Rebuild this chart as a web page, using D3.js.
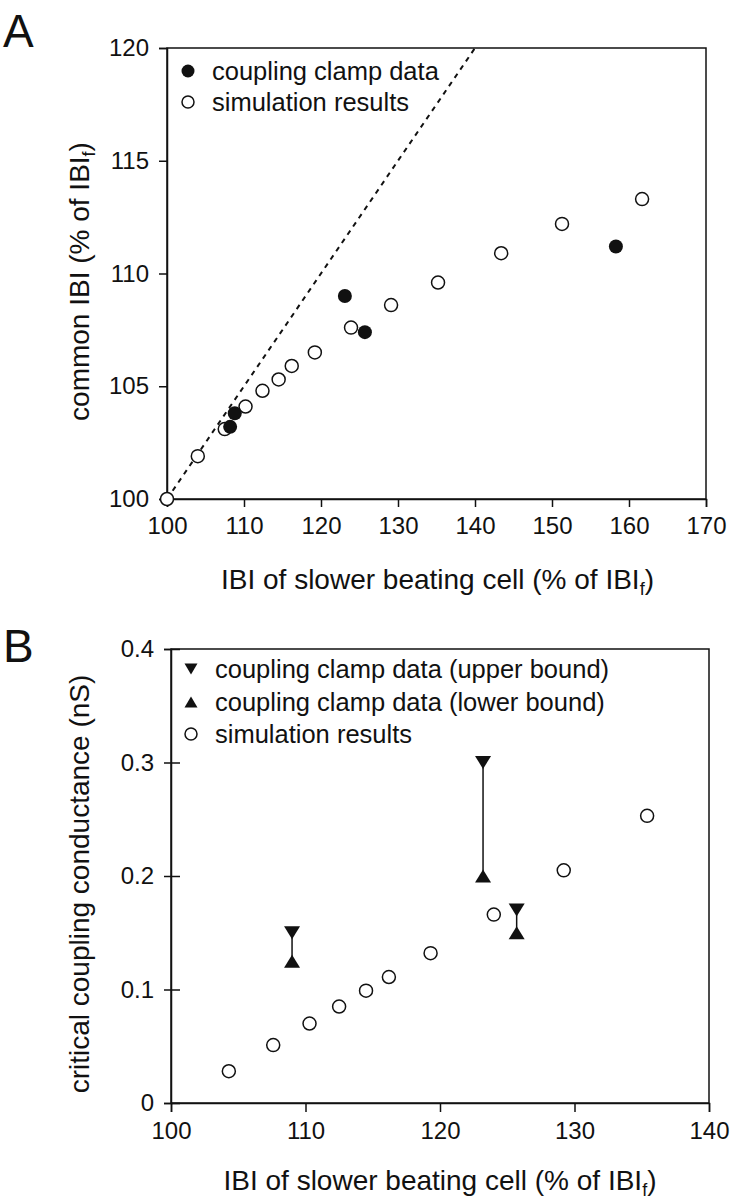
<!DOCTYPE html>
<html><head><meta charset="utf-8">
<script src="https://cdn.jsdelivr.net/npm/d3@7"></script>
<style>
body{margin:0;background:#fff;}
svg{display:block;font-family:"Liberation Sans",Arial,Helvetica,sans-serif;}
</style></head><body>
<svg id="c" width="734" height="1200"></svg>
<script>
// ---- Panel A data ----
const simAx = [100, 104.0, 107.5, 110.2, 112.4, 114.5, 116.2, 119.2, 123.9, 129.1, 135.2, 143.4, 151.3, 161.7];
const simAy = [100, 101.9, 103.1, 104.1, 104.8, 105.3, 105.9, 106.5, 107.6, 108.6, 109.6, 110.9, 112.2, 113.3];
const clampAx = [108.2, 108.8, 123.1, 125.7, 158.3];
const clampAy = [103.2, 103.8, 109.0, 107.4, 111.2];
const diagX = [100, 140];
const diagY = [100, 120];
const ticksAx = [100, 110, 120, 130, 140, 150, 160, 170];
const ticksAy = [100, 105, 110, 115, 120];
const legendA = ["coupling clamp data", "simulation results"];

// ---- Panel B data ----
const simBx = [104.3, 107.6, 110.3, 112.5, 114.5, 116.2, 119.3, 124.0, 129.2, 135.4];
const simBy = [0.028, 0.051, 0.070, 0.085, 0.099, 0.111, 0.132, 0.166, 0.205, 0.253];
const clampBx = [109.0, 123.2, 125.7];
const upperB = [0.15, 0.30, 0.17];
const lowerB = [0.125, 0.20, 0.15];
const ticksBx = [100, 110, 120, 130, 140];
const ticksBy = [0, 0.1, 0.2, 0.3, 0.4];
const legendB = ["coupling clamp data (upper bound)", "coupling clamp data (lower bound)", "simulation results"];

const svg = d3.select("#c");
const FS = 24;     // tick labels
const LFS = 25.5;  // legend
const TFS = 28;    // axis titles

function subTitle(g, pre, x, y, rot) {
  const t = g.append("text").attr("text-anchor", "middle").attr("font-size", TFS).attr("fill", "#111");
  if (rot) t.attr("transform", `translate(${x},${y}) rotate(-90)`);
  else t.attr("x", x).attr("y", y);
  t.append("tspan").text(pre + "IBI");
  t.append("tspan").attr("font-size", 18).attr("dy", 6).text("f");
  t.append("tspan").attr("dy", -6).text(")");
}

// ================= Panel A =================
{
  const L = 167, R = 706, T = 48, B = 499;
  const x = d3.scaleLinear().domain([100, 170]).range([L, R]);
  const y = d3.scaleLinear().domain([100, 120]).range([B, T]);
  const g = svg.append("g");
  g.append("rect").attr("x", L).attr("y", T).attr("width", R - L).attr("height", B - T)
    .attr("fill", "none").attr("stroke", "#111").attr("stroke-width", 1.5);
  const ax = g.append("g").attr("transform", `translate(0,${B})`)
    .call(d3.axisBottom(x).tickValues(ticksAx).tickSize(8).tickPadding(10).tickFormat(d3.format("d")));
  const ay = g.append("g").attr("transform", `translate(${L},0)`)
    .call(d3.axisLeft(y).tickValues(ticksAy).tickSize(8).tickPadding(10).tickFormat(d3.format("d")));
  [ax, ay].forEach(a => {
    a.select(".domain").attr("stroke", "#111").attr("stroke-width", 1.5);
    a.selectAll(".tick line").attr("stroke", "#111").attr("stroke-width", 1.5);
    a.selectAll(".tick text").attr("font-size", FS).attr("fill", "#111").attr("font-family", "Liberation Sans, Arial, sans-serif");
  });
  g.append("line").attr("x1", x(diagX[0])).attr("y1", y(diagY[0])).attr("x2", x(diagX[1])).attr("y2", y(diagY[1]))
    .attr("stroke", "#111").attr("stroke-width", 2).attr("stroke-dasharray", "5,5");
  g.selectAll("circle.sim").data(simAx.map((v, i) => [v, simAy[i]])).enter().append("circle")
    .attr("cx", d => x(d[0])).attr("cy", d => y(d[1])).attr("r", 6.5)
    .attr("fill", "#fff").attr("stroke", "#111").attr("stroke-width", 1.5);
  g.selectAll("circle.clamp").data(clampAx.map((v, i) => [v, clampAy[i]])).enter().append("circle")
    .attr("cx", d => x(d[0])).attr("cy", d => y(d[1])).attr("r", 7)
    .attr("fill", "#111");
  g.append("circle").attr("cx", 188).attr("cy", 71).attr("r", 6.5).attr("fill", "#111");
  g.append("circle").attr("cx", 188).attr("cy", 102).attr("r", 6).attr("fill", "#fff").attr("stroke", "#111").attr("stroke-width", 1.5);
  legendA.forEach((s, i) => g.append("text").attr("x", 212).attr("y", 80 + i * 31).attr("font-size", LFS).attr("fill", "#111").text(s));
  subTitle(g, "IBI of slower beating cell (% of ", (L + R) / 2 + 1, 589, false);
  subTitle(g, "common IBI (% of ", 89, (T + B) / 2 + 8, true);
  g.append("text").attr("x", 3).attr("y", 47).attr("font-size", 46).attr("fill", "#111").text("A");
}

// ================= Panel B =================
{
  const L = 171, R = 709, T = 649, B = 1103;
  const x = d3.scaleLinear().domain([100, 140]).range([L, R]);
  const y = d3.scaleLinear().domain([0, 0.4]).range([B, T]);
  const g = svg.append("g");
  g.append("rect").attr("x", L).attr("y", T).attr("width", R - L).attr("height", B - T)
    .attr("fill", "none").attr("stroke", "#111").attr("stroke-width", 1.5);
  const ax = g.append("g").attr("transform", `translate(0,${B})`)
    .call(d3.axisBottom(x).tickValues(ticksBx).tickSize(9).tickPadding(10).tickFormat(d3.format("d")));
  const ay = g.append("g").attr("transform", `translate(${L},0)`)
    .call(d3.axisLeft(y).tickValues(ticksBy).tickSize(7).tickPadding(10).tickFormat(d => d === 0 ? "0" : d3.format(".1f")(d)));
  ay.selectAll(".tick line").attr("x2", -7).attr("x1", 9);
  [ax, ay].forEach(a => {
    a.select(".domain").attr("stroke", "#111").attr("stroke-width", 1.5);
    a.selectAll(".tick line").attr("stroke", "#111").attr("stroke-width", 1.5);
    a.selectAll(".tick text").attr("font-size", FS).attr("fill", "#111").attr("font-family", "Liberation Sans, Arial, sans-serif");
  });
  const tri = (cx, cy, down, w = 8, h = 6.5) =>
    down ? `M${cx - w},${cy - h}L${cx + w},${cy - h}L${cx},${cy + h}Z`
         : `M${cx - w},${cy + h}L${cx + w},${cy + h}L${cx},${cy - h}Z`;
  clampBx.forEach((v, i) => {
    g.append("line").attr("x1", x(v)).attr("x2", x(v)).attr("y1", y(upperB[i])).attr("y2", y(lowerB[i]))
      .attr("stroke", "#111").attr("stroke-width", 1.5);
    g.append("path").attr("d", tri(x(v), y(upperB[i]), true)).attr("fill", "#111");
    g.append("path").attr("d", tri(x(v), y(lowerB[i]), false)).attr("fill", "#111");
  });
  g.selectAll("circle.sim").data(simBx.map((v, i) => [v, simBy[i]])).enter().append("circle")
    .attr("cx", d => x(d[0])).attr("cy", d => y(d[1])).attr("r", 6.5)
    .attr("fill", "#fff").attr("stroke", "#111").attr("stroke-width", 1.5);
  g.append("path").attr("d", tri(191, 669, true, 6.5, 5.5)).attr("fill", "#111");
  g.append("path").attr("d", tri(191, 702, false, 6.5, 5.5)).attr("fill", "#111");
  g.append("circle").attr("cx", 191).attr("cy", 734).attr("r", 6).attr("fill", "#fff").attr("stroke", "#111").attr("stroke-width", 1.5);
  legendB.forEach((s, i) => g.append("text").attr("x", 215).attr("y", 678 + i * 32.5).attr("font-size", LFS).attr("fill", "#111").text(s));
  subTitle(g, "IBI of slower beating cell (% of ", (L + R) / 2, 1190, false);
  g.append("text").attr("transform", `translate(89,${(T + B) / 2 + 8}) rotate(-90)`).attr("text-anchor", "middle")
    .attr("font-size", TFS).attr("fill", "#111").text("critical coupling conductance (nS)");
  g.append("text").attr("x", 3).attr("y", 662).attr("font-size", 46).attr("fill", "#111").text("B");
}
</script>
</body></html>
